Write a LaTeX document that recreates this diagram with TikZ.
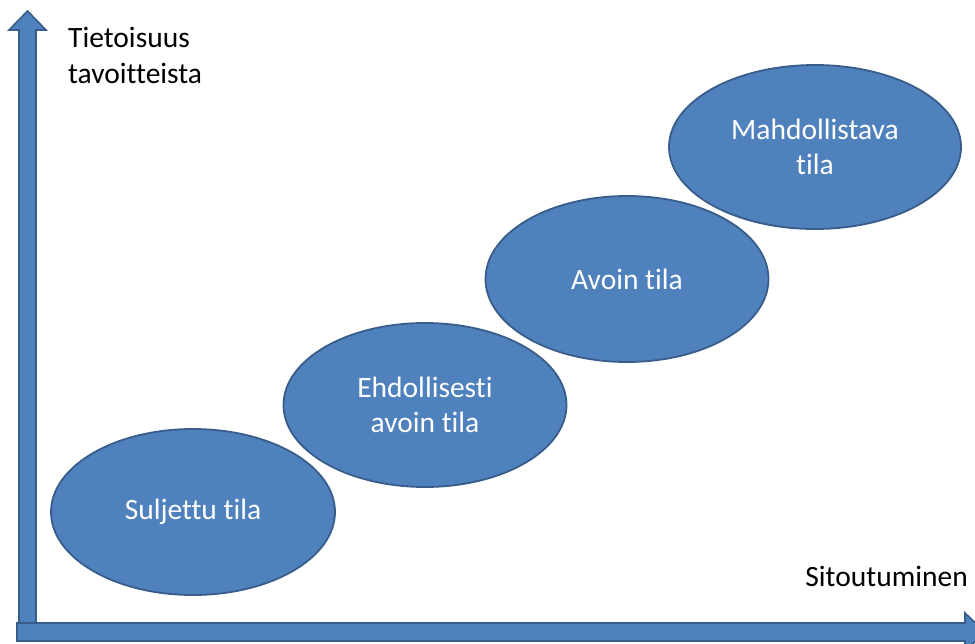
\documentclass[tikz,border=0pt]{standalone}
\usepackage{fontspec}
\setmainfont{Carlito}[Ligatures={NoCommon}]
\usetikzlibrary{shapes.geometric}
\definecolor{stateblue}{HTML}{4F81BD}
\definecolor{stateedge}{HTML}{385D8A}
\begin{document}
\begin{tikzpicture}[x=1pt,y=-1pt,
  statebox/.style={ellipse, draw=stateedge, fill=stateblue, line width=1.8pt,
    inner sep=0pt, text=white, align=center,
    font=\fontsize{29.5}{35}\selectfont},
  axisarrow/.style={draw=stateedge, fill=stateblue, line width=1.6pt, line join=miter},
  axislabel/.style={inner sep=0pt, align=left, font=\fontsize{29.5}{36}\selectfont}]
\useasboundingbox (0,0) rectangle (975,643);

% vertical axis arrow
\path[axisarrow] (19,632) -- (19,30) -- (9,30) -- (27.5,11) -- (46,30) -- (36,30) -- (36,632) -- cycle;
% horizontal axis arrow
\path[axisarrow] (17,623) -- (965,623) -- (965,613) -- (985,632) -- (965,651) -- (965,641) -- (17,641) -- cycle;

% states
\node[statebox, minimum width=284pt, minimum height=166pt] (s1) at (193,512) {Suljettu tila};
\node[statebox, minimum width=283pt, minimum height=164pt] (s2) at (425,405) {Ehdollisesti\\avoin tila};
\node[statebox, minimum width=283pt, minimum height=166pt] (s3) at (627,279) {Avoin tila};
\node[statebox, minimum width=292pt, minimum height=164pt] (s4) at (815,147) {Mahdollistava\\tila};

% axis labels
\node[axislabel, anchor=base west] (ylab) at (68,47) {Tietoisuus};
\node[axislabel, anchor=base west] (ylab2) at (68,83) {tavoitteista};
\node[axislabel, anchor=base east] (xlab) at (968,586) {Sitoutuminen};
\end{tikzpicture}
\end{document}
